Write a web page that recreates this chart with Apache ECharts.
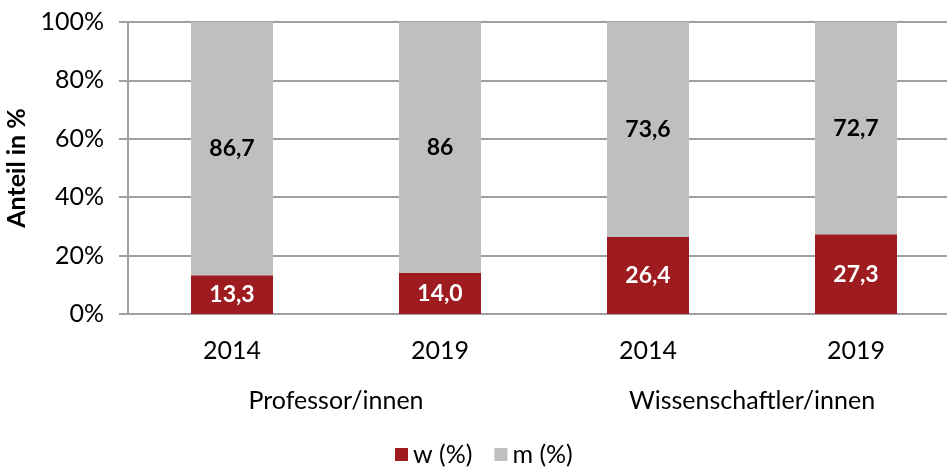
<!DOCTYPE html>
<html><head><meta charset="utf-8">
<script src="https://cdn.jsdelivr.net/npm/echarts@6/dist/echarts.min.js"></script>
<style>html,body{margin:0;padding:0;background:#fff}#c{width:947px;height:468px}</style>
</head><body><div id="c"></div>
<script>
const years = ["2014", "2019", "2014", "2019"];
const groups = ["Professor/innen", "Wissenschaftler/innen"];
const wValues = [13.3, 14.0, 26.4, 27.3];
const mValues = [86.7, 86, 73.6, 72.7];
const wLabels = ["13,3", "14,0", "26,4", "27,3"];
const mLabels = ["86,7", "86", "73,6", "72,7"];
const yTicks = [0, 20, 40, 60, 80, 100];

const FONT = "Lato, 'Open Sans', sans-serif";
const chart = echarts.init(document.getElementById('c'), null, {renderer: 'canvas'});
chart.setOption({
  animation: false,
  textStyle: {fontFamily: FONT},
  grid: {left: 128, top: 22, width: 832, height: 292, containLabel: false, outerBoundsMode: 'none'},
  legend: {
    data: ['w (%)', 'm (%)'],
    left: 390, top: 437,
    itemWidth: 13, itemHeight: 13, itemGap: 22,
    icon: 'rect',
    textStyle: {fontSize: 25, color: '#000', fontFamily: FONT}
  },
  xAxis: [
    {
      type: 'category', data: years, position: 'bottom',
      axisLine: {show: true, lineStyle: {color: '#A0A0A0', width: 2}},
      axisTick: {show: false},
      axisLabel: {fontSize: 25, color: '#000', margin: 24, fontFamily: FONT}
    },
    {
      type: 'category', data: groups, position: 'bottom', offset: 50,
      axisLine: {show: false}, axisTick: {show: false},
      axisLabel: {fontSize: 25, color: '#000', margin: 24, fontFamily: FONT}
    }
  ],
  yAxis: {
    type: 'value', min: 0, max: 100, interval: 20,
    name: 'Anteil in %', nameLocation: 'middle', nameGap: 93,
    nameTextStyle: {fontSize: 25, fontWeight: 'bold', color: '#000', fontFamily: FONT},
    axisLine: {show: true, lineStyle: {color: '#A0A0A0', width: 2}},
    axisTick: {show: true, length: 9, lineStyle: {color: '#A0A0A0', width: 2}},
    splitLine: {show: true, lineStyle: {color: '#A0A0A0', width: 2}},
    axisLabel: {fontSize: 25, color: '#000', margin: 24, fontFamily: FONT,
      formatter: v => yTicks.includes(v) ? v + '%' : ''}
  },
  series: [
    {
      name: 'w (%)', type: 'bar', stack: 'a', barWidth: 82, xAxisIndex: 0,
      data: wValues,
      itemStyle: {color: '#9E1C20'},
      label: {show: true, position: 'inside', color: '#fff', fontSize: 23, fontWeight: 'bold', fontFamily: FONT,
        formatter: p => wLabels[p.dataIndex]}
    },
    {
      name: 'm (%)', type: 'bar', stack: 'a', barWidth: 82, xAxisIndex: 0,
      data: mValues,
      itemStyle: {color: '#BFBFBF'},
      label: {show: true, position: 'inside', color: '#000', fontSize: 23, fontWeight: 'bold', fontFamily: FONT,
        formatter: p => mLabels[p.dataIndex]}
    }
  ]
});
</script></body></html>
